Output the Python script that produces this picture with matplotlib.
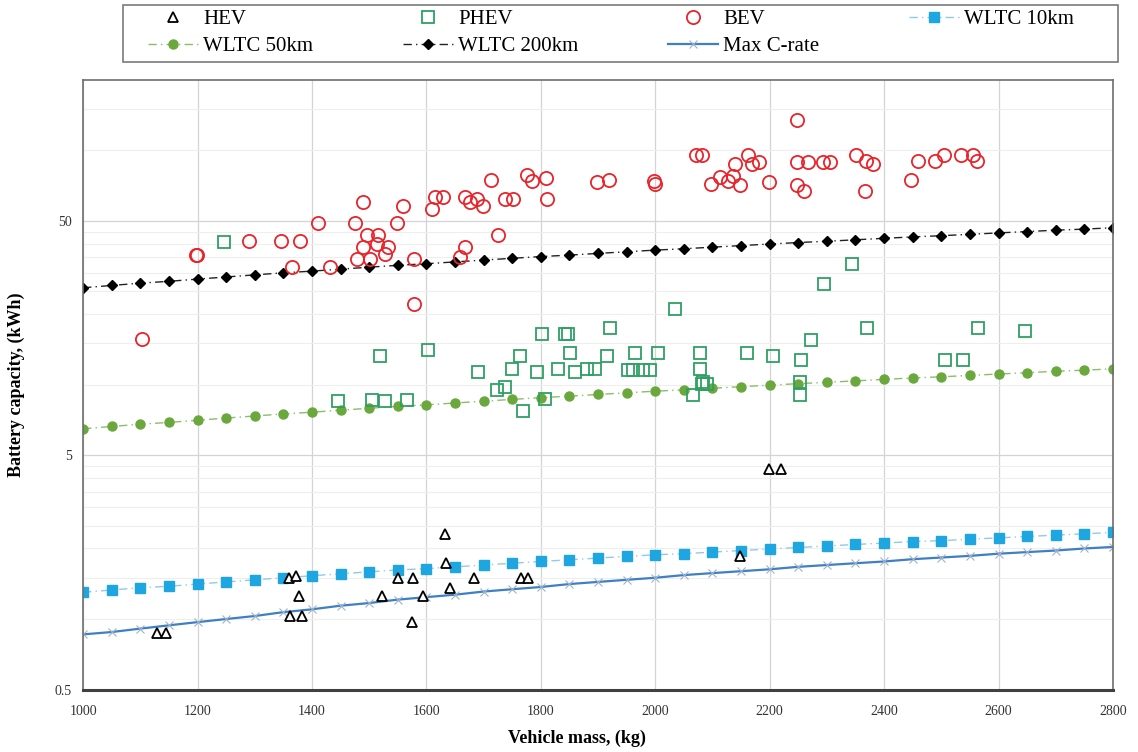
import matplotlib
matplotlib.use('Agg')
import matplotlib.pyplot as plt
from matplotlib.patches import Rectangle
from matplotlib.ticker import FixedLocator, NullFormatter

# ---- data ----
# scatter: vehicle mass (kg) vs battery capacity (kWh)
hev_mass = [1130, 1145, 1360, 1372, 1378, 1362, 1382, 1522, 1551, 1577, 1575,
            1594, 1633, 1635, 1641, 1683, 1766, 1777, 2148, 2198, 2220]
hev_cap = [0.87, 0.87, 1.5, 1.52, 1.26, 1.03, 1.03, 1.26, 1.5, 1.5, 0.97,
           1.26, 2.3, 1.73, 1.36, 1.5, 1.5, 1.5, 1.85, 4.35, 4.35]

phev_mass = [1246, 1446, 1505, 1528, 1566, 1519, 1603, 1690, 1723, 1737, 1750,
             1764, 1769, 1793, 1802, 1807, 1830, 1842, 1848, 1851, 1860, 1881,
             1895, 1916, 1921, 1952, 1961, 1979, 1991, 1965, 2005, 2035, 2066,
             2078, 2078, 2081, 2090, 2084, 2160, 2206, 2253, 2253, 2255, 2272,
             2295, 2344, 2370, 2506, 2538, 2564, 2646]
phev_cap = [40.7, 8.5, 8.6, 8.5, 8.6, 13.3, 14.0, 11.3, 9.5, 9.8, 11.7,
            13.2, 7.7, 11.3, 16.5, 8.7, 11.7, 16.5, 16.5, 13.7, 11.3, 11.7,
            11.7, 13.3, 17.5, 11.6, 11.6, 11.6, 11.6, 13.7, 13.7, 21.1, 9.0,
            13.7, 11.7, 10.1, 10.1, 10.3, 13.6, 13.2, 10.3, 9.0, 12.8, 15.5,
            27.0, 32.8, 17.4, 12.8, 12.8, 17.4, 16.9]

bev_mass = [1103, 1197, 1199, 1290, 1346, 1379, 1365, 1411, 1432, 1475, 1489,
            1496, 1515, 1489, 1514, 1533, 1528, 1479, 1502, 1559, 1549, 1578,
            1578, 1610, 1615, 1629, 1668, 1676, 1689, 1699, 1668, 1659, 1725,
            1713, 1737, 1752, 1776, 1785, 1809, 1811, 1898, 1919, 1998, 2000,
            2071, 2082, 2097, 2113, 2127, 2136, 2139, 2148, 2162, 2169, 2181,
            2199, 2248, 2248, 2267, 2248, 2260, 2293, 2305, 2351, 2368, 2381,
            2367, 2447, 2459, 2489, 2505, 2534, 2555, 2562]
bev_cap = [15.7, 35.8, 35.8, 41.0, 41.0, 41.0, 31.8, 48.8, 31.8, 48.8, 60.0,
           43.3, 43.3, 38.8, 40.0, 38.8, 36.0, 34.5, 34.5, 58.0, 48.8, 34.5,
           22.0, 56.0, 63.0, 63.0, 63.0, 60.0, 62.0, 58.0, 38.8, 35.0, 43.7,
           75.0, 62.0, 62.0, 78.6, 74.0, 76.0, 62.0, 73.0, 75.0, 74.0, 72.0,
           95.5, 95.5, 72.0, 76.6, 74.0, 78.0, 87.0, 71.0, 95.0, 87.0, 89.0,
           73.0, 135.0, 89.0, 89.0, 71.0, 67.0, 89.0, 89.0, 95.0, 90.0, 87.0,
           67.0, 75.0, 90.0, 90.0, 95.0, 95.0, 95.0, 90.0]

# model lines on a 50 kg grid
line_mass = [1000, 1050, 1100, 1150, 1200, 1250, 1300, 1350, 1400, 1450, 1500,
             1550, 1600, 1650, 1700, 1750, 1800, 1850, 1900, 1950, 2000, 2050,
             2100, 2150, 2200, 2250, 2300, 2350, 2400, 2450, 2500, 2550, 2600,
             2650, 2700, 2750, 2800]
wltc10 = [1.30, 1.33, 1.36, 1.38, 1.41, 1.44, 1.47, 1.50, 1.53, 1.56, 1.59,
          1.62, 1.64, 1.67, 1.70, 1.73, 1.76, 1.79, 1.82, 1.85, 1.88, 1.90,
          1.93, 1.96, 1.99, 2.02, 2.05, 2.08, 2.11, 2.14, 2.16, 2.19, 2.22,
          2.25, 2.28, 2.31, 2.34]
wltc50 = [6.48, 6.63, 6.78, 6.90, 7.05, 7.20, 7.35, 7.50, 7.63, 7.78, 7.93,
          8.08, 8.20, 8.35, 8.50, 8.65, 8.80, 8.93, 9.08, 9.23, 9.38, 9.50,
          9.65, 9.80, 9.95, 10.1, 10.23, 10.38, 10.53, 10.68, 10.8, 10.95, 11.1,
          11.25, 11.4, 11.53, 11.68]
wltc200 = [25.9, 26.5, 27.1, 27.6, 28.2, 28.8, 29.4, 30.0, 30.5, 31.1, 31.7,
           32.3, 32.8, 33.4, 34.0, 34.6, 35.2, 35.7, 36.3, 36.9, 37.5, 38.0,
           38.6, 39.2, 39.8, 40.4, 40.9, 41.5, 42.1, 42.7, 43.2, 43.8, 44.4,
           45.0, 45.6, 46.1, 46.7]
max_crate = [0.86, 0.88, 0.91, 0.94, 0.97, 1.00, 1.03, 1.07, 1.10, 1.14, 1.17,
             1.21, 1.24, 1.27, 1.31, 1.34, 1.37, 1.41, 1.44, 1.47, 1.50, 1.54,
             1.57, 1.60, 1.63, 1.67, 1.70, 1.73, 1.76, 1.80, 1.83, 1.86, 1.90,
             1.93, 1.96, 2.00, 2.03]

x_ticks = [1000, 1200, 1400, 1600, 1800, 2000, 2200, 2400, 2600, 2800]
y_ticks = [0.5, 5, 50]
y_tick_labels = ['0.5', '5', '50']
y_minor = [1, 1.5, 2, 2.5, 3, 3.5, 4, 4.5, 10, 15, 20, 25, 30, 35, 40, 45,
           100, 150]

serif = 'Liberation Serif'

fig = plt.figure(figsize=(11.38, 7.52), dpi=100)
ax = fig.add_axes([0.073, 0.083, 0.905, 0.811])

ax.set_yscale('log')
ax.set_xlim(1000, 2800)
ax.set_ylim(0.5, 200)

# grid
ax.set_xticks(x_ticks)
ax.set_yticks(y_ticks)
ax.set_yticklabels(y_tick_labels)
ax.yaxis.set_minor_locator(FixedLocator(y_minor))
ax.yaxis.set_minor_formatter(NullFormatter())
ax.grid(True, which='major', color='#d4d4d4', lw=0.9)
ax.grid(True, which='minor', axis='y', color='#eeeeee', lw=0.8)
ax.set_axisbelow(True)
ax.tick_params(which='both', length=0)
ax.tick_params(axis='x', labelsize=10, pad=11)
ax.tick_params(axis='y', labelsize=10, pad=8)
for lab in ax.get_xticklabels() + ax.get_yticklabels():
    lab.set_family(serif)
    lab.set_color('#333333')

for s in ax.spines.values():
    s.set_color('#6e6e6e')
    s.set_linewidth(1.2)
ax.spines['bottom'].set_color('#404040')
ax.spines['bottom'].set_linewidth(2.2)

# model lines
dashdot = (0, (6, 3, 1, 3))
h10, = ax.plot(line_mass, wltc10, linestyle=dashdot, color='#8fcbe9', lw=1,
               marker='s', ms=7, mfc='#1ea6e0', mec='#1ea6e0', label='WLTC 10km')
h50, = ax.plot(line_mass, wltc50, linestyle=dashdot, color='#8bbd6a', lw=1,
               marker='o', ms=6.5, mfc='#6aa83d', mec='#6aa83d', label='WLTC 50km')
h200, = ax.plot(line_mass, wltc200, linestyle=dashdot, color='#222222', lw=1,
                marker='D', ms=5, mfc='black', mec='black', label='WLTC 200km')
hc, = ax.plot(line_mass, max_crate, linestyle='-', color='#3f7fc4', lw=1.6,
              marker='x', ms=6, mec='#9fb3c8', mew=0.8, label='Max C-rate')

# scatter data
hh, = ax.plot(hev_mass, hev_cap, linestyle='none', marker='^', ms=6.5,
              mfc='white', mec='black', mew=1.3, label='HEV')
hp, = ax.plot(phev_mass, phev_cap, linestyle='none', marker='s', ms=8,
              mfc='none', mec='#2fa063', mew=1.3, label='PHEV')
hb, = ax.plot(bev_mass, bev_cap, linestyle='none', marker='o', ms=9.5,
              mfc='none', mec='#e8242b', mew=1.3, label='BEV')

ax.set_xlabel('Vehicle mass, (kg)', family=serif, fontweight='bold', fontsize=13)
ax.xaxis.set_label_coords(0.48, -0.066)
ax.set_ylabel('Battery capacity, (kWh)', family=serif, fontweight='bold', fontsize=13)
ax.yaxis.set_label_coords(-0.056, 0.5)

# legend frame spans wider than the entries, like the Excel original
fig.add_artist(Rectangle((0.108, 0.9176), 0.8743, 0.0758, transform=fig.transFigure,
                         facecolor='white', edgecolor='#7a7a7a', lw=1.2))
# entries row by row (matplotlib fills columns, so interleave)
handles = [hh, h50, hp, h200, hb, hc, h10]
fig.legend(handles=handles, labels=[h.get_label() for h in handles],
           ncol=4, loc='upper left', bbox_to_anchor=(0.130, 0.987),
           prop={'family': serif, 'size': 15}, frameon=False,
           handlelength=2.4, borderpad=0, borderaxespad=0,
           labelspacing=0.35, columnspacing=4.3, handletextpad=0.25)

fig.savefig('out.png', dpi=100)
